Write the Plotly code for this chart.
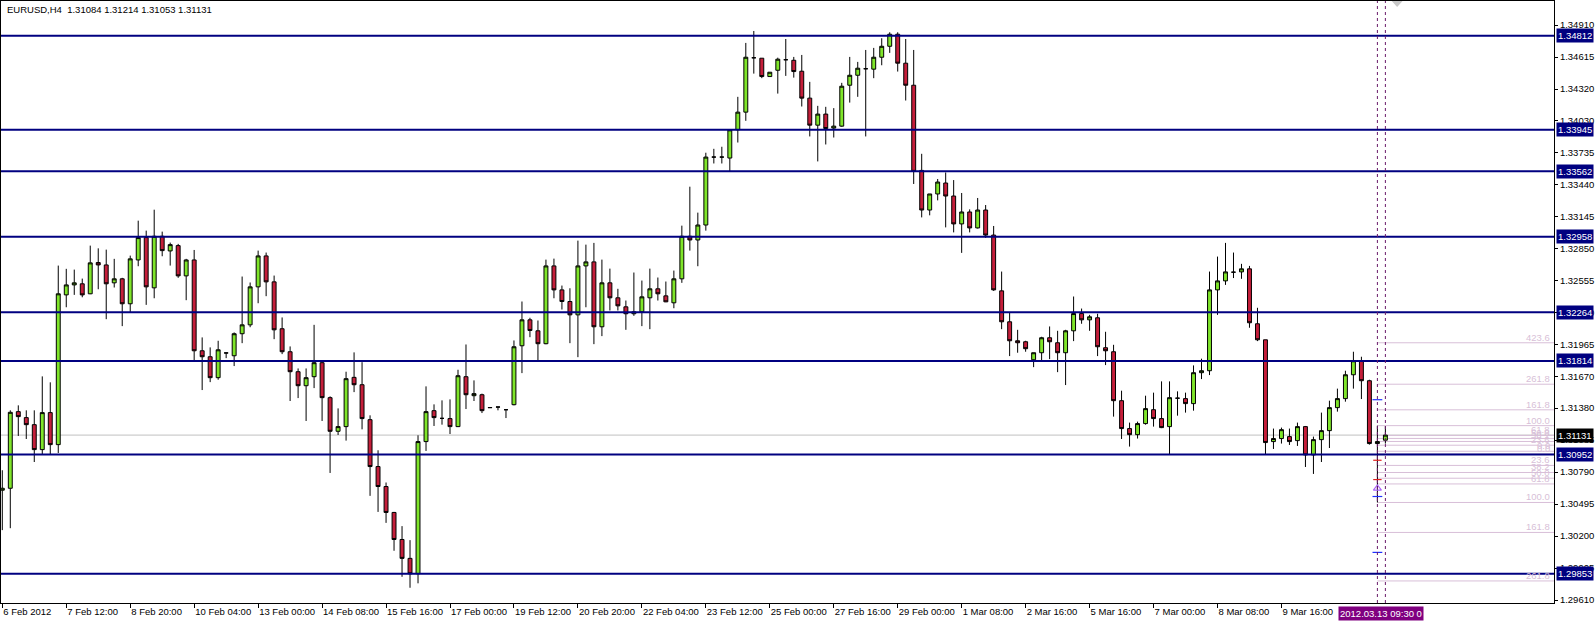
import plotly.graph_objects as go

# ---------------- data ----------------
opens = [1.30623,1.30641,1.31347,1.31292,1.31227,1.30997,1.31338,1.31043,1.32423,1.32515,
1.32525,1.32433,1.32721,1.32699,1.32534,1.32571,1.32341,1.32745,1.32951,1.32488,
1.32963,1.32828,1.32877,1.32598,1.32745,1.31908,1.31853,1.31660,1.31888,1.31862,
1.32065,1.32147,1.32497,1.32782,1.32543,1.32111,1.31899,1.31715,1.31586,1.31669,
1.31798,1.31476,1.31166,1.31209,1.31663,1.31595,1.31273,1.30841,1.30657,1.30418,
1.30169,1.29995,1.29853,1.31071,1.31356,1.31285,1.31283,1.31209,1.31669,1.31494,
1.31503,1.31383,1.31389,1.31365,1.31411,1.31954,1.32193,1.32092,1.31973,1.32690,
1.32469,1.32362,1.32239,1.32690,1.32727,1.32129,1.32534,1.32396,1.32313,1.32249,
1.32267,1.32396,1.32479,1.32414,1.32350,1.32571,1.32963,1.32929,1.33067,1.33693,
1.33693,1.33684,1.33944,1.34107,1.34608,1.34604,1.34435,1.34493,1.34590,1.34585,
1.34484,1.34236,1.33987,1.34089,1.33960,1.33978,1.34355,1.34447,1.34507,1.34503,
1.34613,1.34714,1.34825,1.34558,1.34355,1.33570,1.33205,1.33353,1.33454,1.33334,
1.33077,1.33187,1.33040,1.33205,1.32974,1.32460,1.32175,1.32000,1.31991,1.31825,
1.31890,1.32028,1.31982,1.31890,1.32092,1.32251,1.32193,1.32212,1.31936,1.31899,
1.31448,1.31191,1.31135,1.31237,1.31365,1.31283,1.31209,1.31471,1.31467,1.31421,
1.31706,1.31724,1.32469,1.32552,1.32632,1.32635,1.32663,1.32157,1.32009,1.31071,
1.31099,1.31117,1.31080,1.31209,1.30948,1.31089,1.31172,1.31384,1.31467,1.31687,
1.31816,1.31632,1.31053,1.31084]
highs = [1.30807,1.31359,1.31405,1.31359,1.31359,1.31672,1.31617,1.32693,1.32663,1.32656,
1.32573,1.32877,1.32852,1.32840,1.32755,1.32580,1.32785,1.33107,1.33015,1.33208,
1.33006,1.32905,1.32893,1.32755,1.32837,1.32031,1.31939,1.32000,1.31890,1.32077,
1.32592,1.32537,1.32831,1.32813,1.32601,1.32215,1.31948,1.31745,1.31745,1.32147,
1.31805,1.31488,1.31377,1.31715,1.31893,1.31803,1.31313,1.30991,1.30694,1.30423,
1.30292,1.30163,1.31129,1.31580,1.31414,1.31451,1.31460,1.31733,1.31966,1.31635,
1.31513,1.31385,1.31390,1.31365,1.32003,1.32362,1.32212,1.32187,1.32748,1.32757,
1.32509,1.32484,1.32923,1.32886,1.32902,1.32748,1.32665,1.32479,1.32371,1.32629,
1.32555,1.32665,1.32583,1.32546,1.32647,1.33061,1.33420,1.33181,1.33733,1.33769,
1.33788,1.33950,1.34248,1.34745,1.34855,1.34604,1.34475,1.34609,1.34781,1.34616,
1.34634,1.34386,1.34165,1.34156,1.34144,1.34377,1.34616,1.34570,1.34680,1.34699,
1.34788,1.34843,1.34843,1.34781,1.34680,1.33723,1.33353,1.33491,1.33551,1.33481,
1.33362,1.33211,1.33316,1.33251,1.33058,1.32638,1.32258,1.32101,1.32000,1.31890,
1.32037,1.32132,1.32092,1.32101,1.32408,1.32297,1.32239,1.32249,1.32083,1.31963,
1.31540,1.31246,1.31255,1.31494,1.31522,1.31626,1.31626,1.31534,1.31522,1.31773,
1.31835,1.32638,1.32776,1.32902,1.32813,1.32709,1.32690,1.32304,1.32009,1.31191,
1.31200,1.31191,1.31246,1.31215,1.31117,1.31338,1.31448,1.31559,1.31724,1.31899,
1.31853,1.31641,1.31218,1.31214]
lows = [1.30255,1.30273,1.31123,1.31095,1.30883,1.30954,1.30954,1.30966,1.32309,1.32423,
1.32401,1.32430,1.32475,1.32199,1.32491,1.32135,1.32261,1.32687,1.32331,1.32392,
1.32779,1.32693,1.32580,1.32374,1.31819,1.31546,1.31619,1.31641,1.31840,1.31767,
1.31978,1.32125,1.32346,1.32411,1.32015,1.31877,1.31445,1.31472,1.31261,1.31564,
1.31261,1.30782,1.31132,1.31080,1.31527,1.31184,1.30571,1.30423,1.30322,1.30065,
1.29825,1.29724,1.29765,1.30985,1.31215,1.31227,1.31141,1.31205,1.31371,1.31445,
1.31334,1.31383,1.31359,1.31288,1.31405,1.31702,1.32033,1.31819,1.31968,1.32392,
1.32288,1.31978,1.31849,1.32309,1.31969,1.32043,1.32279,1.32279,1.32101,1.32230,
1.32135,1.32107,1.32371,1.32356,1.32300,1.32534,1.32831,1.32687,1.33015,1.33634,
1.33634,1.33561,1.33827,1.34027,1.34462,1.34420,1.34435,1.34278,1.34441,1.34425,
1.34159,1.33883,1.33653,1.33809,1.33873,1.33972,1.34195,1.34248,1.33883,1.34420,
1.34539,1.34653,1.34481,1.34214,1.33445,1.33137,1.33156,1.33294,1.33045,1.32999,
1.32810,1.32999,1.33035,1.32948,1.32460,1.32107,1.31859,1.31890,1.31899,1.31757,
1.31813,1.31831,1.31711,1.31592,1.31997,1.32157,1.32092,1.31859,1.31776,1.31301,
1.31095,1.31025,1.31099,1.31227,1.31209,1.31195,1.30951,1.31310,1.31338,1.31356,
1.31647,1.31684,1.32239,1.32515,1.32578,1.32571,1.32120,1.31997,1.30951,1.31003,
1.31053,1.31040,1.31031,1.30837,1.30773,1.30883,1.31012,1.31347,1.31439,1.31559,
1.31463,1.31043,1.30510,1.31053]
closes = [1.30641,1.31341,1.31301,1.31227,1.30997,1.31338,1.31043,1.32433,1.32515,1.32534,
1.32423,1.32718,1.32699,1.32525,1.32571,1.32341,1.32755,1.32951,1.32497,1.32963,
1.32831,1.32886,1.32598,1.32745,1.31908,1.31853,1.31660,1.31917,1.31888,1.32065,
1.32147,1.32497,1.32782,1.32543,1.32101,1.31899,1.31715,1.31586,1.31660,1.31798,
1.31476,1.31166,1.31209,1.31651,1.31595,1.31283,1.30841,1.30657,1.30418,1.30169,
1.29995,1.29853,1.31071,1.31347,1.31292,1.31285,1.31209,1.31678,1.31503,1.31513,
1.31356,1.31385,1.31390,1.31365,1.31945,1.32193,1.32095,1.31973,1.32690,1.32469,
1.32362,1.32239,1.32690,1.32727,1.32129,1.32534,1.32396,1.32322,1.32249,1.32267,
1.32405,1.32479,1.32433,1.32359,1.32571,1.32963,1.32929,1.33067,1.33693,1.33693,
1.33693,1.33944,1.34107,1.34613,1.34608,1.34435,1.34475,1.34595,1.34590,1.34481,
1.34236,1.33987,1.34089,1.33956,1.33978,1.34346,1.34447,1.34512,1.34507,1.34613,
1.34714,1.34825,1.34558,1.34355,1.33561,1.33205,1.33353,1.33463,1.33334,1.33077,
1.33187,1.33040,1.33205,1.32974,1.32469,1.32175,1.32000,1.31982,1.31927,1.31890,
1.32028,1.31991,1.31890,1.32092,1.32251,1.32193,1.32221,1.31945,1.31908,1.31448,
1.31191,1.31135,1.31237,1.31375,1.31283,1.31200,1.31476,1.31471,1.31421,1.31706,
1.31724,1.32469,1.32552,1.32635,1.32632,1.32663,1.32166,1.32009,1.31062,1.31099,
1.31181,1.31071,1.31209,1.30948,1.31089,1.31172,1.31384,1.31467,1.31687,1.31816,
1.31632,1.31053,1.31071,1.31131]

date_ticks = ["6 Feb 2012", "7 Feb 12:00", "8 Feb 20:00", "10 Feb 04:00", "13 Feb 00:00",
              "14 Feb 08:00", "15 Feb 16:00", "17 Feb 00:00", "19 Feb 12:00", "20 Feb 20:00",
              "22 Feb 04:00", "23 Feb 12:00", "25 Feb 00:00", "27 Feb 16:00", "29 Feb 00:00",
              "1 Mar 08:00", "2 Mar 16:00", "5 Mar 16:00", "7 Mar 00:00", "8 Mar 08:00",
              "9 Mar 16:00"]
bars_per_label = 8

price_ticks = [1.34910, 1.34615, 1.34320, 1.34030, 1.33735, 1.33440, 1.33145, 1.32850,
               1.32555, 1.32260, 1.31965, 1.31670, 1.31380, 1.31085, 1.30790, 1.30495,
               1.30200, 1.29905, 1.29610]

levels = [1.34812, 1.33945, 1.33562, 1.32958, 1.32264, 1.31814, 1.30952, 1.29853]

symbol = "EURUSD,H4"
bid = 1.31131

# Fibonacci sets (anchor 0 / 100 prices, start bar, ratios)
fib_up_0, fib_up_100 = 1.30982, 1.31218
fib_up_ratios = [0.0, 23.6, 38.2, 50.0, 61.8, 100.0, 161.8, 261.8, 423.6]
fib_dn_0, fib_dn_100 = 1.30957, 1.30510
fib_dn_ratios = [0.0, 23.6, 38.2, 50.0, 61.8, 100.0, 161.8, 261.8]
fib_start_bar = 172

vline_bars = [172, 173]
vline_label = "2012.03.13 09:30 0"

# small indicator marks near the last bars
blue_mark_bar = [172, 172, 172]
blue_mark_price = [1.31457, 1.30565, 1.30050]
red_mark_bar = [172, 172]
red_mark_price = [1.30899, 1.30721]
green_mark_bar = [172]
green_mark_price = [1.30640]

# ---------------- figure ----------------
n = len(opens)
xs = list(range(n))
FONT = "Liberation Sans, Arial, sans-serif"
FS = 9.5
GREEN = "#7FE52A"
RED = "#C41E3A"
NAVY = "#000080"
THISTLE = "#D8BFD8"

ymin, ymax = 1.295836, 1.351312
xmin, xmax = -0.1625, 194.09

fig = go.Figure()
fig.add_trace(go.Candlestick(
    x=xs, open=opens, high=highs, low=lows, close=closes,
    increasing=dict(fillcolor=GREEN, line=dict(color="black", width=1)),
    decreasing=dict(fillcolor=RED, line=dict(color="black", width=1)),
    whiskerwidth=0, showlegend=False, hoverinfo="skip"))

fig.add_trace(go.Scatter(x=blue_mark_bar, y=blue_mark_price, mode="markers",
                         marker=dict(symbol="line-ew", size=7, line=dict(color="#2030FF", width=1.2)),
                         showlegend=False, hoverinfo="skip"))
fig.add_trace(go.Scatter(x=red_mark_bar, y=red_mark_price, mode="markers",
                         marker=dict(symbol="line-ew", size=6, line=dict(color="#E02020", width=1.2)),
                         showlegend=False, hoverinfo="skip"))
fig.add_trace(go.Scatter(x=green_mark_bar, y=green_mark_price, mode="markers",
                         marker=dict(symbol="triangle-up-open", size=7, line=dict(color="#208020", width=1.2)),
                         showlegend=False, hoverinfo="skip"))

shapes = []
annotations = []

# bid line
shapes.append(dict(type="line", xref="paper", yref="y", x0=0, x1=1, y0=bid, y1=bid,
                   line=dict(color="#C0C0C0", width=1), layer="below"))

# fibonacci lines and labels
def add_fib(p0, p100, ratios):
    for r in ratios:
        p = p0 + (p100 - p0) * r / 100.0
        shapes.append(dict(type="line", xref="x", yref="y", x0=fib_start_bar, x1=xmax,
                           y0=p, y1=p, line=dict(color=THISTLE, width=1), layer="below"))
        annotations.append(dict(xref="paper", yref="y", x=1, y=p, xanchor="right", yanchor="bottom",
                                xshift=-2, yshift=-2, text="%.1f" % r, showarrow=False,
                                font=dict(family=FONT, size=FS, color=THISTLE)))

add_fib(fib_up_0, fib_up_100, fib_up_ratios)
add_fib(fib_dn_0, fib_dn_100, fib_dn_ratios)

# horizontal levels
for lv in levels:
    shapes.append(dict(type="line", xref="paper", yref="y", x0=0, x1=1, y0=lv, y1=lv,
                       line=dict(color=NAVY, width=2), layer="above"))
    annotations.append(dict(xref="paper", yref="y", x=1, y=lv, xanchor="left", yanchor="middle",
                            xshift=2, text="%.5f" % lv, showarrow=False, bgcolor=NAVY,
                            borderpad=1, font=dict(family=FONT, size=FS, color="white")))

annotations.append(dict(xref="paper", yref="y", x=1, y=bid, xanchor="left", yanchor="middle",
                        xshift=2, text="%.5f" % bid, showarrow=False, bgcolor="black",
                        borderpad=1, font=dict(family=FONT, size=FS, color="white")))

# vertical dotted lines
for vb in vline_bars:
    shapes.append(dict(type="line", xref="x", yref="paper", x0=vb, x1=vb, y0=0, y1=1,
                       line=dict(color="#6A1B6A", width=1, dash="3px,3px"), layer="above"))
annotations.append(dict(xref="x", yref="paper", x=sum(vline_bars) / 2.0, y=0, xanchor="center",
                        yanchor="top", yshift=-3, text=vline_label, showarrow=False,
                        bgcolor="#800080", borderpad=1, font=dict(family=FONT, size=FS, color="white")))

# small gray shift marker at top
shapes.append(dict(type="path", xref="paper", yref="paper",
                   path="M 0.8955,1 L 0.9025,1 L 0.899,0.99 Z",
                   fillcolor="#C8C8C8", line=dict(width=0), layer="above"))

# title
o, h, l, c = opens[-1], highs[-1], lows[-1], closes[-1]
annotations.append(dict(xref="paper", yref="paper", x=0, y=1, xanchor="left", yanchor="top",
                        xshift=4, yshift=-1,
                        text="%s  %.5f %.5f %.5f %.5f" % (symbol, o, h, l, c),
                        showarrow=False, font=dict(family=FONT, size=FS, color="black")))

fig.update_layout(
    width=1596, height=622,
    margin=dict(l=1, r=42, t=1, b=19),
    paper_bgcolor="white", plot_bgcolor="white",
    showlegend=False,
    boxgap=0.3,
    shapes=shapes, annotations=annotations,
    xaxis=dict(range=[xmin, xmax], rangeslider=dict(visible=False),
               tickvals=[i * bars_per_label for i in range(len(date_ticks))],
               ticktext=date_ticks, ticklabelposition="outside right", tickangle=0,
               ticks="outside", ticklen=4, tickcolor="black",
               tickfont=dict(family=FONT, size=FS, color="black"),
               showgrid=False, zeroline=False, showline=True, linecolor="black",
               linewidth=1, mirror=True, fixedrange=True),
    yaxis=dict(range=[ymin, ymax], side="right", tickvals=price_ticks,
               tickformat=".5f", ticks="outside", ticklen=3, tickcolor="black",
               tickfont=dict(family=FONT, size=FS, color="black"),
               showgrid=False, zeroline=False, showline=True, linecolor="black",
               linewidth=1, mirror=True, fixedrange=True),
)

fig.write_html("out.html", config={"displayModeBar": False},
               post_script="document.body.style.margin='0';document.body.style.overflow='hidden';")
